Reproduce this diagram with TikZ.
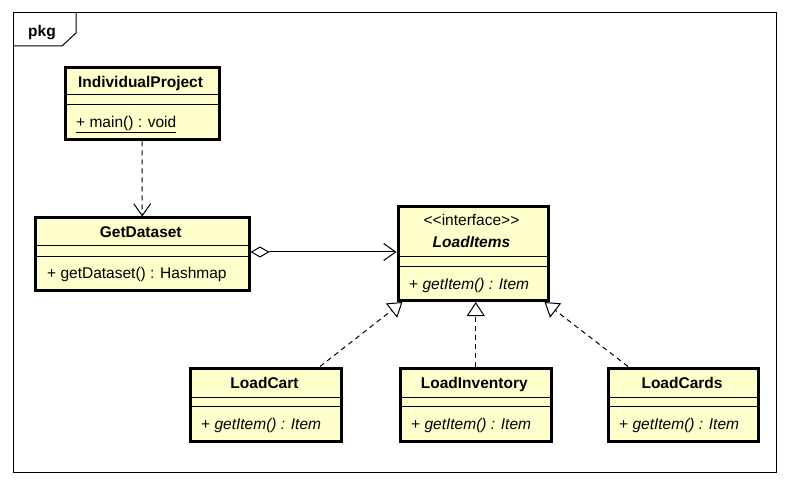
\documentclass[tikz,border=0pt]{standalone}
\usepackage{fontspec}
\newfontfamily\uml{Liberation Sans}
\usetikzlibrary{arrows.meta,calc}
\definecolor{classfill}{HTML}{FFFFCC}
\begin{document}
\begin{tikzpicture}[x=1pt,y=-1pt,
  classbox/.style={draw, line width=3pt, fill=classfill, inner sep=0pt, anchor=north west},
  sepline/.style={line width=1pt},
  txt/.style={inner sep=0pt, font=\uml\fontsize{15.5}{18}\selectfont},
  nametxt/.style={txt, anchor=base, font=\uml\bfseries\fontsize{15.5}{18}\selectfont},
  optxt/.style={txt, anchor=base west},
  dashpat/.style={dash pattern=on 5pt off 4pt},
  dep/.style={line width=1pt, dashpat, -{Straight Barb[length=12pt,width=17pt,line width=1pt]}},
  agg/.style={line width=1pt, {Diamond[open,fill=white,length=19pt,width=11pt,line width=1pt]}-{Straight Barb[length=12pt,width=17pt,line width=1pt]}},
  real/.style={line width=1pt, dashpat, -{Triangle[open,fill=white,length=14pt,width=18pt,line width=1pt]}}
]
\useasboundingbox (0,0) rectangle (789,494);
% package frame
\draw[line width=1pt] (13,13) rectangle (776,472);
\draw[line width=1pt] (13,46) -- (62,46) -- (76,33) -- (76,13);
\node[txt, anchor=base west, font=\uml\bfseries\fontsize{15.5}{18}\selectfont] (pkg) at (28,37) {pkg};

% IndividualProject
\node[classbox, minimum width=154pt, minimum height=72pt] (ip) at (63.5,66.5) {};
\draw[sepline] (ip.west |- 0,95) -- (ip.east |- 0,95);
\draw[sepline] (ip.west |- 0,105) -- (ip.east |- 0,105);
\node[nametxt] (ipn) at (140.5,87.5) {IndividualProject};
\node[optxt] (ipm) at (76,127.5) {\underline{+ main() : void}};

% GetDataset
\node[classbox, minimum width=213.5pt, minimum height=72.5pt] (gd) at (34,216.5) {};
\draw[sepline] (gd.west |- 0,245.5) -- (gd.east |- 0,245.5);
\draw[sepline] (gd.west |- 0,256) -- (gd.east |- 0,256);
\node[nametxt] (gdn) at (140.75,237) {GetDataset};
\node[optxt] (gdm) at (47,278.5) {+ getDataset() : Hashmap};

% LoadItems
\node[classbox, minimum width=150pt, minimum height=94pt] (li) at (396.5,205) {};
\draw[sepline] (li.west |- 0,256) -- (li.east |- 0,256);
\draw[sepline] (li.west |- 0,266.5) -- (li.east |- 0,266.5);
\node[txt, anchor=base] (lis) at (471.5,226) {<\kern0pt<interface>\kern0pt>};
\node[nametxt, font=\uml\bfseries\itshape\fontsize{15.5}{18}\selectfont] (lin) at (471.5,247.5) {LoadItems};
\node[optxt] (lim) at (409,289) {+ \textit{getItem() : Item}};

% LoadCart
\node[classbox, minimum width=151pt, minimum height=73.5pt] (cart) at (189,366.5) {};
\draw[sepline] (cart.west |- 0,397.5) -- (cart.east |- 0,397.5);
\draw[sepline] (cart.west |- 0,406.5) -- (cart.east |- 0,406.5);
\node[nametxt] (cartn) at (264.5,388.5) {LoadCart};
\node[optxt] (cartm) at (201,429.5) {+ \textit{getItem() : Item}};

% LoadInventory
\node[classbox, minimum width=150.5pt, minimum height=73.5pt] (inv) at (399,366.5) {};
\draw[sepline] (inv.west |- 0,397.5) -- (inv.east |- 0,397.5);
\draw[sepline] (inv.west |- 0,406.5) -- (inv.east |- 0,406.5);
\node[nametxt] (invn) at (474.25,388.5) {LoadInventory};
\node[optxt] (invm) at (411,429.5) {+ \textit{getItem() : Item}};

% LoadCards
\node[classbox, minimum width=150pt, minimum height=73.5pt] (cards) at (607,366.5) {};
\draw[sepline] (cards.west |- 0,397.5) -- (cards.east |- 0,397.5);
\draw[sepline] (cards.west |- 0,406.5) -- (cards.east |- 0,406.5);
\node[nametxt] (cardsn) at (682,388.5) {LoadCards};
\node[optxt] (cardsm) at (619,429.5) {+ \textit{getItem() : Item}};

% connectors
\draw[dep] (ip.south) -- (gd.north);
\draw[agg] (gd.east |- 0,252) -- (li.west |- 0,252);
\draw[real] ($(cart.north west)+(131,0)$) -- ($(li.south west)+(6,0)$);
\draw[real] (inv.north |- cart.north) -- (inv.north |- li.south);
\draw[real] ($(cards.north west)+(21,0)$) -- ($(li.south east)+(-5,0)$);
\end{tikzpicture}
\end{document}
